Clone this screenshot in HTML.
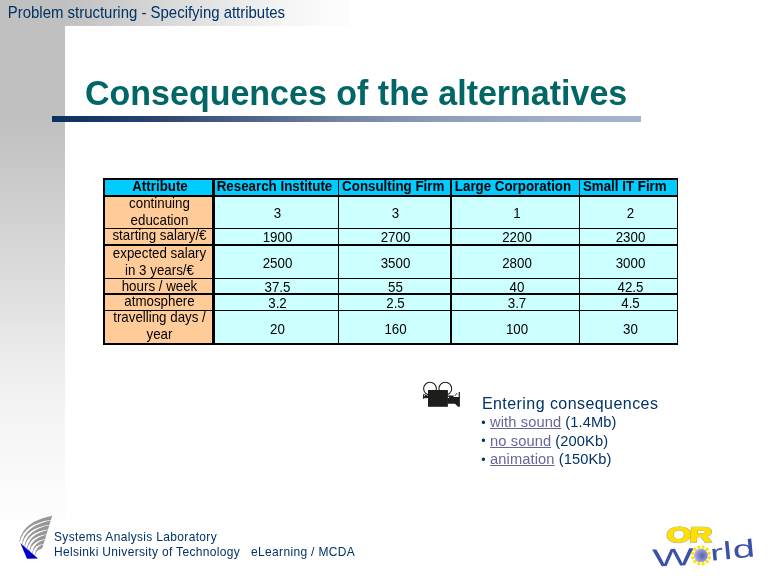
<!DOCTYPE html>
<html>
<head>
<meta charset="utf-8">
<title>Consequences of the alternatives</title>
<style>
html,body{margin:0;padding:0;}
body{width:768px;height:576px;position:relative;overflow:hidden;background:#fff;font-family:"Liberation Sans",sans-serif;}
#leftbar{position:absolute;left:0;top:0;width:65px;height:520px;background:linear-gradient(to bottom,#c0c0c0 0px,#c0c0c0 120px,#cecece 200px,#e0e0e0 300px,#eaeaea 350px,#f2f2f2 400px,#f7f7f7 450px,#fbfbfb 490px,#fdfdfd 520px);}
#topbar{position:absolute;left:0;top:0;width:350px;height:26px;background:linear-gradient(to right,#c0c0c0 0px,#c0c0c0 65px,#d2d2d2 140px,#dcdcdc 180px,#ebebeb 240px,#f4f4f4 280px,#fafafa 320px,#fdfdfd 350px);}
#crumb{position:absolute;left:7.8px;top:4px;font-size:14.95px;line-height:17px;transform:scaleY(1.05);transform-origin:0 14px;color:#003366;white-space:nowrap;}
#title{position:absolute;left:85px;top:73px;transform:scaleY(1.015);transform-origin:0 31.2px;font-size:34px;line-height:40px;font-weight:bold;color:#006666;white-space:nowrap;}
#rule{position:absolute;left:52px;top:116px;width:589px;height:6px;background:linear-gradient(to right,#0a3060 0px,#2a4270 98px,#50628a 198px,#7585a5 294px,#909fb9 398px,#a0afc7 498px,#a4b4cc 589px);}
#tbl{position:absolute;left:103px;top:178px;width:575px;height:167px;background:#000;font-size:13.33px;line-height:15.8px;color:#000;}
#tbl .c span{display:inline-block;position:relative;transform:scaleY(1.075);}
#tbl .c{position:absolute;display:flex;align-items:center;justify-content:center;text-align:center;white-space:nowrap;overflow:hidden;}
#tbl .h{background:#00ccff;font-weight:bold;}
#tbl .a{background:#ffcc99;}
#tbl .d{background:#ccffff;}
#info{position:absolute;left:480.4px;top:394px;color:#003366;white-space:nowrap;}
#info .hd{font-size:16px;line-height:19px;letter-spacing:0.44px;padding-left:1.5px;}
#info .li{font-size:14.67px;line-height:18.4px;letter-spacing:0.1px;position:relative;top:0.4px;left:0.3px;}
#info .b{display:inline-block;width:5.2px;font-size:12.5px;line-height:10px;position:relative;top:-0.6px;left:0.6px;letter-spacing:0;}
#info a{color:#666699;text-decoration:underline;}
#foot{position:absolute;left:54px;top:529.5px;font-size:12px;line-height:13.9px;letter-spacing:0.33px;transform:scaleY(1.08);transform-origin:0 0;color:#003366;white-space:nowrap;}
svg{position:absolute;overflow:visible;}
</style>
</head>
<body>
<div id="leftbar"></div>
<div id="topbar"></div>
<div id="crumb">Problem structuring - Specifying attributes</div>
<div id="title">Consequences of the alternatives</div>
<div id="rule"></div>
<div id="tbl">
<div class="c h" style="left:2px;top:2px;width:107px;height:15px"><span style="top:-1px;left:1.5px">Attribute</span></div>
<div class="c h" style="left:112px;top:2px;width:123px;height:15px"><span style="top:-1px;left:-2px">Research Institute</span></div>
<div class="c h" style="left:236px;top:2px;width:111px;height:15px"><span style="top:-1px;left:-1.3px">Consulting Firm</span></div>
<div class="c h" style="left:349px;top:2px;width:127px;height:15px"><span style="top:-1px;left:-2.5px">Large Corporation</span></div>
<div class="c h" style="left:477px;top:2px;width:97px;height:15px"><span style="top:-1px;left:-3.7px">Small IT Firm</span></div>
<div class="c a" style="left:2px;top:19px;width:107px;height:31px"><span style="top:-0.5px;left:1px">continuing<br>education</span></div>
<div class="c d" style="left:112px;top:19px;width:123px;height:31px"><span style="top:1px;left:1px">3</span></div>
<div class="c d" style="left:236px;top:19px;width:111px;height:31px"><span style="top:1px;left:1px">3</span></div>
<div class="c d" style="left:349px;top:19px;width:127px;height:31px"><span style="top:1px;left:1.5px">1</span></div>
<div class="c d" style="left:477px;top:19px;width:97px;height:31px"><span style="top:1px;left:2px">2</span></div>
<div class="c a" style="left:2px;top:51px;width:107px;height:15px"><span style="top:-0.5px;left:1px">starting salary/€</span></div>
<div class="c d" style="left:112px;top:51px;width:123px;height:15px"><span style="top:1px;left:1px">1900</span></div>
<div class="c d" style="left:236px;top:51px;width:111px;height:15px"><span style="top:1px;left:1px">2700</span></div>
<div class="c d" style="left:349px;top:51px;width:127px;height:15px"><span style="top:1px;left:1.5px">2200</span></div>
<div class="c d" style="left:477px;top:51px;width:97px;height:15px"><span style="top:1px;left:2px">2300</span></div>
<div class="c a" style="left:2px;top:68px;width:107px;height:32px"><span style="top:-0.5px;left:1px">expected salary<br>in 3 years/€</span></div>
<div class="c d" style="left:112px;top:68px;width:123px;height:32px"><span style="top:2px;left:1px">2500</span></div>
<div class="c d" style="left:236px;top:68px;width:111px;height:32px"><span style="top:2px;left:1px">3500</span></div>
<div class="c d" style="left:349px;top:68px;width:127px;height:32px"><span style="top:2px;left:1.5px">2800</span></div>
<div class="c d" style="left:477px;top:68px;width:97px;height:32px"><span style="top:2px;left:2px">3000</span></div>
<div class="c a" style="left:2px;top:101px;width:107px;height:14px"><span style="top:0.5px;left:1px">hours / week</span></div>
<div class="c d" style="left:112px;top:101px;width:123px;height:14px"><span style="top:2px;left:1px">37.5</span></div>
<div class="c d" style="left:236px;top:101px;width:111px;height:14px"><span style="top:2px;left:1px">55</span></div>
<div class="c d" style="left:349px;top:101px;width:127px;height:14px"><span style="top:2px;left:1.5px">40</span></div>
<div class="c d" style="left:477px;top:101px;width:97px;height:14px"><span style="top:2px;left:2px">42.5</span></div>
<div class="c a" style="left:2px;top:117px;width:107px;height:15px"><span style="top:-0.5px;left:1px">atmosphere</span></div>
<div class="c d" style="left:112px;top:117px;width:123px;height:15px"><span style="top:1px;left:1px">3.2</span></div>
<div class="c d" style="left:236px;top:117px;width:111px;height:15px"><span style="top:1px;left:1px">2.5</span></div>
<div class="c d" style="left:349px;top:117px;width:127px;height:15px"><span style="top:1px;left:1.5px">3.7</span></div>
<div class="c d" style="left:477px;top:117px;width:97px;height:15px"><span style="top:1px;left:2px">4.5</span></div>
<div class="c a" style="left:2px;top:133px;width:107px;height:32px"><span style="top:-1.5px;left:1px">travelling days /<br>year</span></div>
<div class="c d" style="left:112px;top:133px;width:123px;height:32px"><span style="top:3px;left:1px">20</span></div>
<div class="c d" style="left:236px;top:133px;width:111px;height:32px"><span style="top:3px;left:1px">160</span></div>
<div class="c d" style="left:349px;top:133px;width:127px;height:32px"><span style="top:3px;left:1.5px">100</span></div>
<div class="c d" style="left:477px;top:133px;width:97px;height:32px"><span style="top:3px;left:2px">30</span></div>
</div>
<svg id="cam" style="left:0;top:0" width="768" height="576" viewBox="0 0 768 576">
<circle cx="430" cy="388.6" r="6.4" fill="#fff" stroke="#1f1d1b" stroke-width="1.1"/>
<circle cx="445.3" cy="388.6" r="6.4" fill="#fff" stroke="#1f1d1b" stroke-width="1.1"/>
<path fill="#1f1d1b" d="M423 394.3L424.5 394.3L428.5 396L428.5 398L424 398.2L423 399.2Z"/>
<rect x="428" y="390" width="19.9" height="16.8" fill="#1f1d1b"/>
<path fill="#1f1d1b" d="M447.5 395.4L453.6 395.4L453.6 397.1L458.7 397.1L458.7 392L459.9 392L459.9 406.8L458 406.8L455 403.7L447.5 403.7Z"/>
<path d="M455 395.9L456.6 393.4L457.6 394.4" fill="none" stroke="#1f1d1b" stroke-width="0.8"/>
<circle cx="424.4" cy="395.6" r="0.6" fill="#fff"/>
<circle cx="448.6" cy="397.4" r="0.7" fill="#fff"/>
</svg>
<div id="info">
<div class="hd">Entering consequences</div>
<div class="li"><span class="b">•</span> <a>with sound</a> (1.4Mb)</div>
<div class="li"><span class="b">•</span> <a>no sound</a> (200Kb)</div>
<div class="li"><span class="b">•</span> <a>animation</a> (150Kb)</div>
</div>
<svg id="tkk" style="left:0;top:0" width="768" height="576" viewBox="0 0 768 576">
<path fill="#969696" d="M19.3 541.5Q22.6 521.5 52.2 515.8L50.9 520.1Q24.4 523.5 19.8 542.0Z M21.8 543.8Q24.7 525.7 50.7 520.5L49.4 524.8Q26.2 527.9 22.3 544.3Z M24.4 546.2Q26.9 529.9 49.3 525.3L48.0 529.6Q28.1 532.2 24.9 546.7Z M26.9 548.5Q29.0 534.1 47.8 530.0L46.5 534.3Q30.0 536.6 27.4 549.0Z M29.4 550.8Q31.1 538.3 46.4 534.8L45.1 539.0Q31.9 540.9 29.9 551.3Z M32.0 553.2Q33.3 542.5 44.9 539.5L43.6 543.8Q33.8 545.3 32.5 553.7Z M34.5 555.5Q35.4 546.7 43.5 544.3L42.1 548.5Q35.7 549.6 35.0 556.0Z"/>
<path fill="#0000cc" d="M20.3 543L38 558.6L27 558.8Z"/>
</svg>
<div id="foot">Systems Analysis Laboratory<br>Helsinki University of Technology&nbsp;&nbsp; eLearning / MCDA</div>
<svg id="orw" style="left:0;top:0" width="768" height="576" viewBox="0 0 768 576" font-family="Liberation Sans, sans-serif">
<defs><radialGradient id="gl" cx="0.6" cy="0.52" r="0.62"><stop offset="0" stop-color="#5461b0"/><stop offset="0.55" stop-color="#8791cb"/><stop offset="1" stop-color="#b9c0e4"/></radialGradient></defs>
<text transform="translate(665.9,541.7) scale(1.5,1) skewX(-3)" font-size="21" font-weight="bold" letter-spacing="-0.9" fill="#ffe100" stroke="#8c8fa8" stroke-width="1.7" stroke-linejoin="round">OR</text>
<text transform="translate(665.9,541.7) scale(1.5,1) skewX(-3)" font-size="21" font-weight="bold" letter-spacing="-0.9" fill="#ffe100" stroke="#ffe100" stroke-width="1.1" stroke-linejoin="round">OR</text>
<text transform="translate(652.6,566.5) rotate(-2) scale(1.8,1)" font-size="24.6" fill="#3b50a6">W</text>
<text transform="translate(694.5,562) rotate(-5)" font-size="22" fill="#3b50a6">o</text>
<g fill="#ffe100"><circle cx="709.2" cy="557.6" r="1.7"/><circle cx="707.0" cy="561.5" r="1.7"/><circle cx="703.1" cy="563.7" r="1.7"/><circle cx="698.7" cy="563.7" r="1.7"/><circle cx="694.8" cy="561.5" r="1.7"/><circle cx="692.6" cy="557.6" r="1.7"/><circle cx="692.6" cy="553.2" r="1.7"/><circle cx="694.8" cy="549.3" r="1.7"/><circle cx="698.7" cy="547.1" r="1.7"/><circle cx="703.1" cy="547.1" r="1.7"/><circle cx="707.0" cy="549.3" r="1.7"/><circle cx="709.2" cy="553.2" r="1.7"/></g>
<circle cx="700.9" cy="555.4" r="6.9" fill="url(#gl)"/>
<g transform="rotate(-5.5 713 560.2)" fill="#3b50a6">
<text transform="translate(710.6,560.5) scale(1.8,1)" font-size="22">r</text>
<text transform="translate(723.9,560.5) scale(1.6,1)" font-size="25">l</text>
<text transform="translate(733.5,560.5) scale(1.6,1)" font-size="25">d</text>
</g>
</svg>
</body>
</html>
